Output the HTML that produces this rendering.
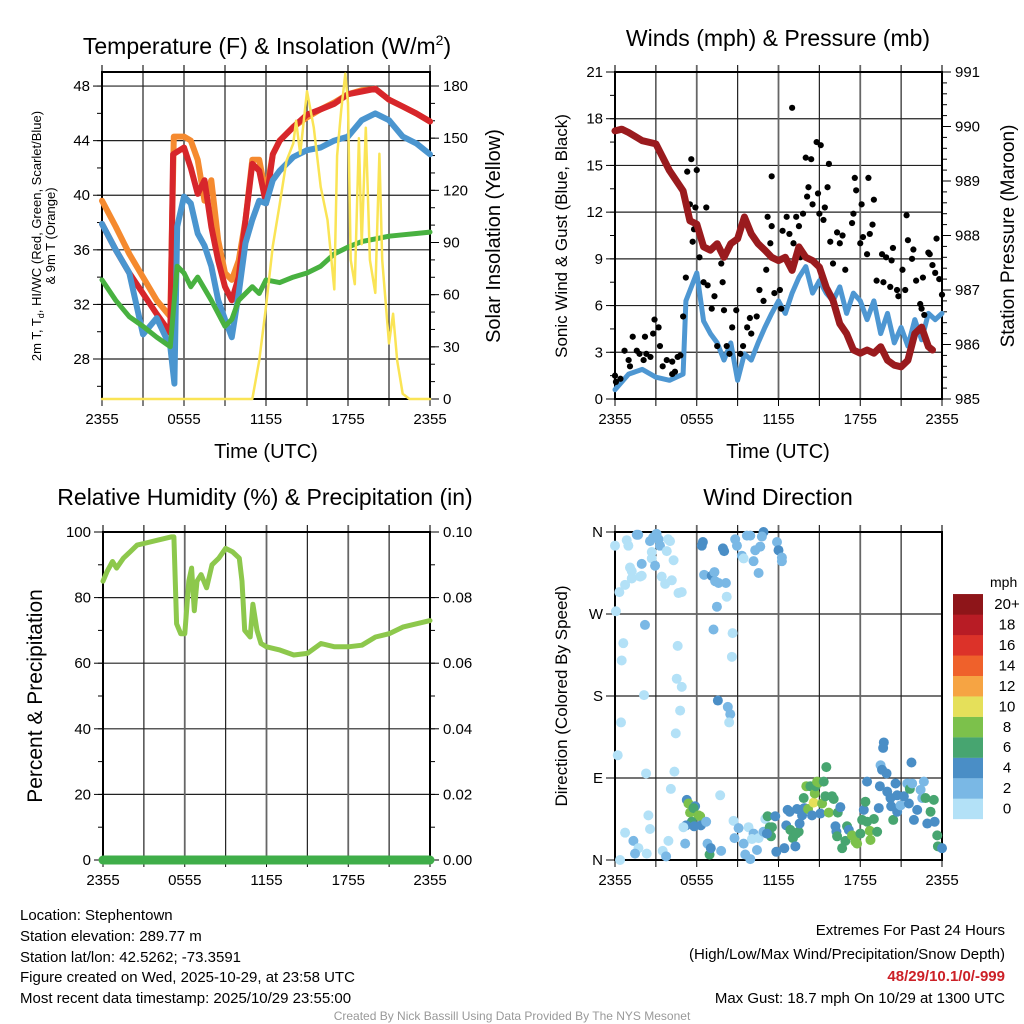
<!DOCTYPE html>
<html><head><meta charset="utf-8"><style>
html,body{margin:0;padding:0;background:#fff;}
svg{display:block;font-family:"Liberation Sans",Arial,sans-serif;}
</style></head><body>
<svg id="s" width="1024" height="1024" viewBox="0 0 1024 1024" xmlns="http://www.w3.org/2000/svg">
<rect width="1024" height="1024" fill="#fff"/>
<text x="267" y="54" font-size="23" text-anchor="middle">Temperature (F) &amp; Insolation (W/m<tspan font-size="14" dy="-9">2</tspan><tspan dy="9">)</tspan></text>
<text x="778" y="46" font-size="23" text-anchor="middle">Winds (mph) &amp; Pressure (mb)</text>
<text x="265" y="505" font-size="23" text-anchor="middle">Relative Humidity (%) &amp; Precipitation (in)</text>
<text x="778" y="505" font-size="23" text-anchor="middle">Wind Direction</text>
<text transform="translate(41,236) rotate(-90)" font-size="13" text-anchor="middle">2m T, T<tspan font-size="9" dy="3">d</tspan><tspan dy="-3">, HI/WC (Red, Green, Scarlet/Blue)</tspan></text>
<text transform="translate(55,236) rotate(-90)" font-size="13" text-anchor="middle">&amp; 9m T (Orange)</text>
<text transform="translate(500,236) rotate(-90)" font-size="20" text-anchor="middle">Solar Insolation (Yellow)</text>
<text transform="translate(567,236) rotate(-90)" font-size="17" text-anchor="middle">Sonic Wind &amp; Gust (Blue, Black)</text>
<text transform="translate(1014,236) rotate(-90)" font-size="19" text-anchor="middle">Station Pressure (Maroon)</text>
<text transform="translate(42,696) rotate(-90)" font-size="21" text-anchor="middle">Percent &amp; Precipitation</text>
<text transform="translate(567,696) rotate(-90)" font-size="17" text-anchor="middle">Direction (Colored By Speed)</text>
<text x="266" y="458" font-size="20" text-anchor="middle">Time (UTC)</text>
<text x="778" y="458" font-size="20" text-anchor="middle">Time (UTC)</text>
<g font-size="15">
<text x="20" y="920">Location: Stephentown</text>
<text x="20" y="941">Station elevation: 289.77 m</text>
<text x="20" y="962">Station lat/lon: 42.5262; -73.3591</text>
<text x="20" y="982">Figure created on Wed, 2025-10-29, at 23:58 UTC</text>
<text x="20" y="1003">Most recent data timestamp: 2025/10/29 23:55:00</text>
</g>
<g font-size="15" text-anchor="end">
<text x="1005" y="935">Extremes For Past 24 Hours</text>
<text x="1005" y="959">(High/Low/Max Wind/Precipitation/Snow Depth)</text>
<text x="1005" y="981" fill="#cc2027" font-weight="bold">48/29/10.1/0/-999</text>
<text x="1005" y="1003">Max Gust: 18.7 mph On 10/29 at 1300 UTC</text>
</g>
<text x="512" y="1020" font-size="12" fill="#999" text-anchor="middle">Created By Nick Bassill Using Data Provided By The NYS Mesonet</text>
<g id="plots"></g>
</svg>
<script>
// ---- data (hours since 2355 UTC) ----
const timeLabels = ["2355","0555","1155","1755","2355"];
const orangeHours = [0,1,2,3,4,5,5.25,6,6.5,7,7.5,8,8.5,9,9.5,10,10.5,11,11.5,12,12.5,13,14,15,16,17,18,19,20,20.5,21,22,23,24];
const orangeTemp = [39.6,37.7,35.7,34,32.3,31.1,44.3,44.3,44,42.6,39.6,41.1,36.7,34.3,33.8,35.2,38.2,42.6,42.6,40.1,43,44,45,45.7,46.3,46.8,47.4,47.7,47.8,47.4,47,46.5,46,45.4];
const redHours = [0,1,2,3,4,5,5.2,6,6.5,7,7.5,8,8.5,9,9.5,10,10.5,11,11.5,12,12.5,13,14,15,16,17,18,19,20,21,22,23,24];
const redTemp = [37.9,36,34.3,32.8,31.3,29.9,43,43.5,42,40.1,41.1,37.7,35.2,33.3,32.3,34,38.2,42.3,41.8,39.4,43,44,45,45.9,46.3,46.7,47.4,47.6,47.8,47,46.5,46,45.4];
const blueHours = [0,1,2,3,4,5,5.3,5.5,6,6.5,7,7.5,8,8.5,9,9.5,10,10.5,11,11.5,12,12.5,13,14,15,16,17,18,19,20,21,22,23,24];
const blueTemp = [37.9,36,34.3,29.8,31,28.9,26.2,37.7,39.9,39.4,37.2,36.3,34.8,32.3,30.9,29.6,32.8,36.5,38.2,39.6,39.4,41.1,41.8,42.8,43.3,43.5,44,44.3,45.5,46,45.5,44.3,43.8,43];
const greenHours = [0,1,2,3,4,5,5.5,6,6.5,7,8,9,9.5,10,11,11.5,12,13,14,15,16,17,18,19,20,21,22,23,24];
const greenTemp = [33.8,32.3,31.1,30.4,29.6,28.9,34.8,34.3,33.3,34,32.3,30.4,30.9,32.3,33.3,32.8,33.8,33.6,34,34.3,34.8,35.7,36.2,36.6,36.8,37,37.1,37.2,37.3];
const solarHours = [0,11,11.5,12,12.5,13,13.5,14,14.2,14.5,15,15.5,16,16.5,17,17.2,17.5,17.8,18,18.2,18.5,18.8,19,19.3,19.6,20,20.3,20.5,21,21.3,21.6,22,22.5,24];
const solarValues = [0,0,22,53,88,112,137,147,160,141,177,156,122,103,63,140,166,187,170,80,66,150,89,156,80,61,141,80,32,49,22,3,0,0];
const windHours = [0,1,2,3,4,5,5.2,6,6.5,7,7.5,8,8.5,9,9.5,10,10.5,11,11.5,12,12.5,13,13.5,14,14.5,15,15.5,16,16.5,17,17.5,18,18.5,19,19.5,20,20.5,21,21.5,22,22.5,23,23.5,24];
const windSpeed = [0.6,1.6,1.9,1.4,1.2,1.6,6.3,8.1,5,4.2,3.6,2.5,3.6,1.2,2.9,2.5,3.6,4.6,5.5,6.3,5.5,6.8,7.8,8.5,6.8,7.6,6.8,6.3,7.2,5.5,6.8,6.3,5.1,6.3,4.2,5.5,3.6,4.6,3.4,5.1,3.8,5.5,5.1,5.5];
const pressHours = [0,0.5,1,2,3,4,5,5.5,6,6.5,7,7.5,8,8.5,9,9.5,10,10.5,11,11.5,12,12.5,13,13.5,14,14.5,15,15.5,16,16.5,17,17.5,18,18.5,19,19.5,20,20.5,21,21.5,22,22.5,23,23.3];
const pressure = [989.92,989.95,989.89,989.74,989.68,989.19,988.82,988.27,988.21,987.79,987.73,987.85,987.6,987.85,987.94,988.34,988.03,987.85,987.73,987.6,987.54,987.6,987.36,987.79,987.6,987.54,987.42,987.05,986.81,986.38,986.2,985.9,985.84,985.9,985.84,985.96,985.71,985.62,985.59,985.71,986.2,986.32,985.96,985.9];
const gustHours = [0,0.07,0.4,0.7,1,1.1,1.3,1.6,1.8,2.1,2.2,2.3,2.6,2.8,2.9,3.2,3.3,3.5,3.8,4.2,4.2,4.4,4.6,4.8,5,5.2,5.3,5.6,5.5,5.9,6,6.2,6.7,5.7,5.8,6.5,6.8,7.3,7.1,7.9,8,7.8,7.5,8.2,8.4,8.6,8.9,9.2,9.4,9.7,9.9,10,10.4,10.6,10.9,11.1,11.2,11.4,11.5,11.5,11.7,12.1,12.2,12.3,12.6,12.8,13,13.1,13.3,13.5,13.6,13.8,14,14.1,14.2,14.4,14.5,14.8,14.9,15,15.1,15.3,15.4,15.6,15.7,15.8,16,16.3,16.5,16.7,16.9,17.4,17.5,17.6,17.7,18,18.1,18.2,18.5,18.6,18.7,18.9,19,19.2,19.6,19.7,19.9,20.2,20.3,20.4,20.7,20.8,21.1,21.3,21.4,21.5,21.8,21.9,22.1,22.4,22.5,22.6,22.7,23,23.1,23.3,23.5,23.6,23.8,24];
const gustSpeed = [1.5,1.1,1.3,3.1,2.5,2.1,4.0,3.1,2.9,2.5,4.0,2.9,2.7,4.2,5.1,4.6,3.4,2.1,2.5,2.4,1.6,1.75,2.7,2.8,5.3,7.8,14.6,15.4,12.5,12.3,14.7,9.1,12.3,10.1,10.9,7.5,7.3,6.6,5.8,7.5,5.7,8.7,3.4,3.4,2.9,4.6,5.7,2.9,3.4,4.6,5.2,4.2,5.3,7.0,6.3,8.3,11.7,10.0,11.1,14.3,6.8,7.0,5.8,10.8,11.7,10.6,18.7,10.0,11.7,11.1,9.1,11.9,15.5,13.0,13.6,15.4,12.5,16.5,13.2,11.9,16.3,11.5,12.3,13.6,15.1,10.1,8.7,10.7,10.0,10.5,8.3,11.3,11.9,14.2,13.4,10.0,12.5,10.4,9.3,14.2,10.6,11.2,12.8,7.6,9.3,7.5,9.1,7.2,8.9,9.7,7.0,6.6,8.3,7.0,11.8,10.2,9.0,9.6,7.6,6.1,5.8,7.8,5.4,9.4,9.3,8.6,8.1,10.3,7.7,6.7];
const rhHours = [0,0.3,0.7,1,1.5,2,2.5,3,4,5,5.2,5.4,5.7,6,6.3,6.5,6.7,6.9,7.2,7.6,8,8.5,9,9.5,10,10.2,10.4,10.8,11,11.3,11.6,12,13,14,15,16,17,18,19,20,21,22,23,24];
const rhValues = [85,88,91,89,92,94,96,96.5,97.5,98.5,98.5,72,69,69,85,89,76,85,87,83,90,92,95,94,92,85,70,68,78,70,66,65,64,62.5,63,66,65,65,65.5,68,69,71,72,73];
const precipHours = [0,24];
const precipValues = [0,0];
const dirHours = [0,0.86,0.98,1.6,1.7,2.57,2.8,3.05,3.2,3.3,2.7,2.7,3.8,3.9,4.04,4.3,1.96,2.94,1.1,1.23,0.74,1.23,1.84,1.96,3.43,3.68,4.17,0.32,4.66,4.9,0.07,2.2,0.61,0.49,4.6,4.53,4.9,2.13,0.44,4.78,4.46,0.2,2.28,4.36,4.1,2.45,2.57,0.74,1.35,1.72,1.47,2.33,3.5,3.75,3.92,0.37,
6.45,6.37,7.92,8.01,8.82,8.95,9.68,9.93,10.9,10.78,10.66,10.29,11.89,12,12.25,12.25,9.31,9.44,10.17,10.54,6.54,7.1,7.3,7.35,7.6,8.14,8.2,7.48,7.23,8.63,8.58,7.55,8.28,8.46,8.38,7.72,8.7,8.77,9.07,9.44,9.56,9.93,9.8,10.17,10.05,10.42,10.54,10.9,11.03,
5.27,5.39,5.51,5.88,5.76,6.13,6.25,5.64,5.22,5.81,6.3,6.69,5.02,5.15,6.79,6.94,7.03,7.79,
11.2,11.35,11.52,11.45,11.76,11.15,11.84,12.43,12.57,12.67,12.82,12.87,13.06,13.24,13.3,13.48,13.36,13.55,13.73,13.8,13.85,13.9,14.04,14.17,14.34,14.46,14.58,14.66,14.73,14.83,14.95,15.07,15.2,15.32,15.44,15.51,15.69,15.93,16.05,16.18,16.25,16.35,16.54,16.3,16.67,16.91,17.03,17.16,17.4,17.65,17.77,18.01,18.14,18.26,18.38,18.5,18.5,18.75,18.7,19,19.24,19.36,19.44,19.49,19.6,19.73,19.68,19.93,19.98,20.22,20.27,20.42,20.59,20.71,20.71,20.96,21.2,21.45,21.57,21.64,21.76,21.81,21.94,22.18,22.43,22.55,22.67,22.79,22.92,23.16,23.4,23.46,23.65,23.7,24];
const dirDegrees = [345,351,345,357,357,350,354,358,352,345,338,331,339,352,350,329,325,323,321,317,302,309,311,312,311,303,307,294,293,294,273,258,238,219,235,199,190,181,151,164,139,115,95,97,78,49,34,30,21,13,7,7,10,4,21,0,
349,345,342,339,352,345,356,356,360,355,344,340,349,340,332,328,334,331,328,315,313,312,316,306,304,304,289,278,253,249,223,175,168,160,151,71,43,24,35,18,6,1,36,29,23,11,24,31,45,
66,62,52,59,57,49,48,42,38,37,38,42,36,18,18,6,13,10,
48,36,36,26,48,29,9,13,38,55,53,33,24,15,29,31,56,40,49,56,68,57,81,56,81,49,63,73,81,86,85,51,62,86,70,102,52,70,67,37,31,52,58,26,13,21,37,33,27,20,18,29,44,55,64,86,42,22,32,45,31,57,81,104,99,129,123,95,75,68,59,44,84,71,53,60,70,84,62,78,107,84,44,55,77,68,86,68,40,53,66,42,27,15,13];
const dirSpeed = [1,1,1,3,3,3,3,3,3,3,1,1,1,1,1,1,3,3,1,1,1,1,1,1,1,1,1,1,1,1,1,3,1,1,1,1,1,1,1,1,1,1,1,1,1,1,1,1,3,1,3,1,1,3,1,1,
5,5,5,5,3,3,3,3,5,3,3,3,3,5,3,3,3,1,3,3,3,5,3,3,3,3,1,3,3,1,1,5,3,3,1,1,1,3,3,3,3,3,1,3,1,3,1,3,1,
5,9,9,5,7,9,9,7,5,5,5,3,1,3,3,7,5,3,
7,7,7,7,5,5,5,5,5,5,5,7,7,5,7,7,5,5,5,5,7,5,9,9,7,5,11,9,7,9,9,5,9,7,7,7,9,7,7,5,5,7,5,7,7,7,7,5,9,9,9,7,7,5,7,5,7,9,9,7,7,5,5,3,5,5,5,5,5,5,5,7,5,5,5,3,5,3,5,7,5,3,5,5,3,3,3,7,5,7,7,5,7,7,5];
const speedBins = ["0","2","4","6","8","10","12","14","16","18","20+"];
const speedColors = ["#b3e1f7","#7ab8e5","#4a8ec6","#47a570","#7cc14b","#e5e05a","#f6a443","#ef612b","#dc3229","#b81c25","#8e1519"];

// ---- drawing helpers ----
const NS="http://www.w3.org/2000/svg";
const root=document.getElementById('plots');
function mk(tag,attrs,parent){const e=document.createElementNS(NS,tag);for(const k in attrs)e.setAttribute(k,attrs[k]);(parent||root).appendChild(e);return e;}
function scale(d0,d1,r0,r1){return v=>r0+(v-d0)*(r1-r0)/(d1-d0);}
function drawLine(xs,ys,sx,sy,color,w,name){
  const p=xs.map((h,i)=>(i?'L':'M')+sx(h).toFixed(1)+','+sy(ys[i]).toFixed(1)).join('');
  const e=mk('path',{d:p,fill:'none',stroke:color,'stroke-width':w,'stroke-linejoin':'round','stroke-linecap':'round'});
  
  
}
function frame(P,leftTicks,leftMinor,leftFmt,rightTicks,rightMinor,rightFmt,name,yLabels){
  const g=mk('g',{});
  
  
  leftTicks.forEach(v=>{const y=P.sy(v);mk('line',{x1:P.x0,x2:P.x1,y1:y,y2:y,stroke:'#222','stroke-width':1.2},g);
    mk('line',{x1:P.x0-9,x2:P.x0,y1:y,y2:y,stroke:'#000','stroke-width':1},g);
    const t=mk('text',{x:P.x0-12,y:y+5,'font-size':15,'text-anchor':'end'},g);t.textContent=yLabels?yLabels[leftTicks.indexOf(v)]:leftFmt(v);});
  leftMinor.forEach(v=>{const y=P.sy(v);mk('line',{x1:P.x0-5,x2:P.x0,y1:y,y2:y,stroke:'#000','stroke-width':1},g);});
  if(rightTicks){rightTicks.forEach(v=>{const y=P.sy2(v);mk('line',{x1:P.x1,x2:P.x1+9,y1:y,y2:y,stroke:'#000','stroke-width':1},g);
    const t=mk('text',{x:P.x1+13,y:y+5,'font-size':15},g);t.textContent=rightFmt(v);});
    rightMinor.forEach(v=>{const y=P.sy2(v);mk('line',{x1:P.x1,x2:P.x1+5,y1:y,y2:y,stroke:'#000','stroke-width':1},g);});}
  for(let h=0;h<=24;h+=3){const x=P.sx(h);mk('line',{x1:x,x2:x,y1:P.y0-7,y2:P.y1,stroke:h%6===0?'#666':'#222','stroke-width':h%6===0?1.8:1.2},g);
    mk('line',{x1:x,x2:x,y1:P.y1,y2:P.y1+7,stroke:'#000','stroke-width':1},g);}
  timeLabels.forEach((l,i)=>{const t=mk('text',{x:P.sx(i*6),y:P.y1+25,'font-size':15,'text-anchor':'middle'},g);t.textContent=l;});
  mk('rect',{x:P.x0,y:P.y0,width:P.x1-P.x0,height:P.y1-P.y0,fill:'none',stroke:'#000','stroke-width':2},g);
  return g;
}
const range=(a,b,s)=>{const r=[];for(let v=a;v<=b+1e-9;v+=s)r.push(+v.toFixed(4));return r;};

// ---- Panel 1: temperature ----
const P1={x0:102,x1:430,y0:72,y1:399};
P1.sx=scale(0,24,P1.x0,P1.x1);P1.sy=scale(25.07,49.03,P1.y1,P1.y0);P1.sy2=scale(0,188.05,P1.y1,P1.y0);
frame(P1,range(28,48,4),range(26,48,2),v=>v,range(0,180,30),range(0,180,10),v=>v,'temperature-axes');
drawLine(orangeHours,orangeTemp,P1.sx,P1.sy,'#f58a2f',6,'orange-9m-temp-line');
drawLine(redHours,redTemp,P1.sx,P1.sy,'#d7262b',6,'red-2m-temp-line');
drawLine(blueHours,blueTemp,P1.sx,P1.sy,'#4a95cf',6,'blue-windchill-line');
drawLine(greenHours,greenTemp,P1.sx,P1.sy,'#48b140',5,'green-dewpoint-line');
drawLine(solarHours,solarValues,P1.sx,P1.sy2,'#fae455',2.5,'yellow-insolation-line');

// ---- Panel 2: winds ----
const P2={x0:615,x1:942,y0:72,y1:399};
P2.sx=scale(0,24,P2.x0,P2.x1);P2.sy=scale(0,21,P2.y1,P2.y0);P2.sy2=scale(985,991,P2.y1,P2.y0);
frame(P2,range(0,21,3),range(0,21,1.5),v=>v,range(985,991,1),range(985,991,0.2),v=>v,'winds-axes');
drawLine(windHours,windSpeed,P2.sx,P2.sy,'#4e97d2',5,'sonic-wind-line');
gustHours.forEach((h,i)=>{const c=mk('circle',{cx:P2.sx(h),cy:P2.sy(gustSpeed[i]),r:3.1,fill:'#000'});
  
  });
drawLine(pressHours,pressure,P2.sx,P2.sy2,'#9a1b1e',7,'pressure-line');

// ---- Panel 3: humidity ----
const P3={x0:103,x1:430,y0:532,y1:860};
P3.sx=scale(0,24,P3.x0,P3.x1);P3.sy=scale(0,100,P3.y1,P3.y0);P3.sy2=scale(0,0.1,P3.y1,P3.y0);
frame(P3,range(0,100,20),range(0,100,10),v=>v,range(0,0.1,0.02),range(0,0.1,0.01),v=>v.toFixed(2),'humidity-axes');
drawLine(rhHours,rhValues,P3.sx,P3.sy,'#8dc84c',5,'relative-humidity-line');
drawLine(precipHours,precipValues,P3.sx,P3.sy2,'#3fae49',9,'precipitation-line');

// ---- Panel 4: wind direction ----
const P4={x0:615,x1:942,y0:532,y1:860};
P4.sx=scale(0,24,P4.x0,P4.x1);P4.sy=scale(0,360,P4.y1,P4.y0);
frame(P4,[0,90,180,270,360],[],null,null,null,null,'direction-axes',['N','E','S','W','N']);
dirHours.forEach((h,i)=>{const bin=Math.min(10,Math.floor(dirSpeed[i]/2));
  const c=mk('circle',{cx:P4.sx(h),cy:P4.sy(dirDegrees[i]),r:5,fill:speedColors[bin]});
  
  });
const cb=mk('g',{});


const mt=mk('text',{x:990,y:587,'font-size':14},cb);mt.textContent='mph';
speedBins.forEach((l,i)=>{const y=819-(i+1)*20.45;
  const r=mk('rect',{x:953,y:y,width:30,height:20.6,fill:speedColors[i]},cb);
  
  
  const t=mk('text',{x:1007,y:y+15,'font-size':15,'text-anchor':'middle'},cb);t.textContent=l;});
</script>
</body></html>
